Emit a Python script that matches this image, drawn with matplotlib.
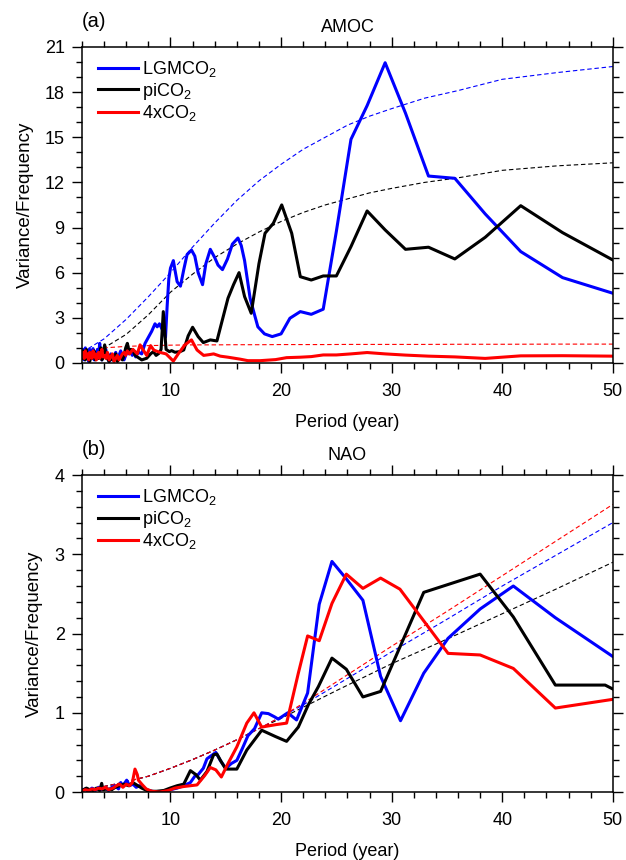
import matplotlib
matplotlib.use("Agg")
import matplotlib.pyplot as plt
from matplotlib.ticker import MultipleLocator

plt.rcParams['font.family'] = ['Liberation Sans', 'DejaVu Sans']
plt.rcParams['mathtext.fontset'] = 'custom'
plt.rcParams['mathtext.rm'] = 'Liberation Sans'
plt.rcParams['mathtext.it'] = 'Liberation Sans'

# ---------------- data: panel (a) AMOC ----------------
a_lgm_x = [2.0, 2.1, 2.2, 2.3, 2.4, 2.5, 2.6, 2.7, 2.8, 2.9, 3.0, 3.1, 3.2, 3.3, 3.4, 3.5, 3.6, 3.7,
           3.8, 3.9, 4.0, 4.15, 4.3, 4.45, 4.6, 4.75, 4.9, 5.05, 5.2, 5.35, 5.5, 5.65, 5.8, 5.95,
           6.1, 6.25, 6.4, 6.55, 6.7, 6.85, 7.0, 7.15, 7.4, 7.7, 8.0, 8.3, 8.6, 8.8, 9.0, 9.2, 9.4,
           9.55, 9.7, 9.85, 10.0, 10.26, 10.4, 10.6, 10.9, 11.2, 11.5, 11.9, 12.2, 12.5, 12.9, 13.2,
           13.6, 14.0, 14.3, 14.7, 15.15, 15.6, 16.1, 16.4, 16.7, 17.2, 17.6, 17.9, 18.5, 19.2, 20.0,
           20.8, 21.74, 22.73, 23.81, 25.0, 26.32, 27.78, 29.41, 31.25, 33.33, 35.71, 38.46, 41.67,
           45.45, 50.0]
a_lgm_y = [0.6, 0.9, 0.2, 1.0, 0.4, 0.8, 0.1, 0.9, 0.3, 0.7, 0.95, 0.2, 0.6, 0.3, 0.9, 0.5, 1.3, 0.4,
           0.2, 0.8, 0.5, 0.9, 0.3, 0.1, 0.6, 0.2, 0.4, 0.7, 0.3, 0.5, 0.8, 0.4, 0.2, 0.5,
           0.9, 0.6, 0.7, 0.5, 0.8, 0.4, 0.6, 0.7, 0.6, 1.3, 1.7, 2.1, 2.6, 2.4, 2.6, 2.3, 2.0,
           1.7, 3.8, 5.6, 6.3, 6.8, 6.2, 5.4, 5.1, 6.2, 7.2, 7.5, 7.1, 6.0, 5.2, 6.6,
           7.55, 7.0, 6.5, 6.2, 6.9, 7.9, 8.3, 7.8, 6.8, 4.3, 3.2, 2.4, 1.93, 1.75, 1.93,
           2.97, 3.41, 3.23, 3.57, 8.75, 14.86, 17.1, 19.95, 16.6, 12.42, 12.27, 9.9, 7.4,
           5.67, 4.63]

a_pi_x = [2.0, 2.1, 2.2, 2.3, 2.4, 2.5, 2.6, 2.7, 2.8, 2.9, 3.0, 3.1, 3.2, 3.3, 3.4, 3.5, 3.6, 3.7,
          3.8, 3.9, 4.05, 4.15, 4.3, 4.45, 4.6, 4.75, 4.9, 5.05, 5.2, 5.35, 5.5, 5.65, 5.8, 5.95,
          6.1, 6.25, 6.4, 6.6, 6.8, 7.0, 7.4, 7.85, 8.2, 8.45, 8.7, 8.96, 9.15, 9.35, 9.6, 9.9,
          10.1, 10.4, 10.86, 11.2, 11.6, 12.0, 12.5, 12.97, 13.6, 14.2, 14.6, 15.2, 15.7, 16.2,
          16.7, 17.3, 18.0, 18.55, 19.3, 20.06, 20.96, 21.74, 22.73, 23.81, 25.0, 26.32, 27.78,
          29.41, 31.25, 33.33, 35.71, 38.46, 41.67, 45.45, 50.0]
a_pi_y = [0.3, 0.8, 0.5, 0.2, 0.9, 0.4, 0.6, 0.1, 0.7, 0.3, 0.5, 0.8, 0.2, 0.4, 0.6, 0.3, 0.5, 1.0,
          0.2, 0.6, 1.2, 0.4, 0.3, 0.1, 0.5, 0.2, 0.3, 0.6, 0.1, 0.3, 0.4, 0.2, 0.5, 1.0,
          1.3, 0.8, 0.9, 0.86, 0.5, 0.4, 0.2, 0.31, 0.6, 0.75, 0.5, 0.64, 0.9, 3.41, 0.9, 0.75,
          0.82, 0.71, 0.75, 0.86, 1.8, 2.37, 1.75, 1.35, 1.53, 1.46, 2.6, 4.3, 5.2, 6.0,
          4.41, 3.3, 6.6, 8.62, 9.28, 10.5, 8.62, 5.73, 5.51, 5.78, 5.78, 7.73, 10.1,
          8.84, 7.55, 7.69, 6.91, 8.35, 10.45, 8.66, 6.84]

a_4x_x = [2.0, 2.1, 2.2, 2.3, 2.4, 2.5, 2.6, 2.7, 2.8, 2.9, 3.0, 3.1, 3.2, 3.3, 3.4, 3.5, 3.6, 3.7,
          3.8, 3.9, 4.0, 4.15, 4.3, 4.45, 4.6, 4.75, 4.9, 5.05, 5.2, 5.35, 5.5, 5.65, 5.8, 5.95,
          6.1, 6.3, 6.6, 7.0, 7.25, 7.5, 7.85, 8.2, 8.5, 9.05, 9.6, 10.26, 10.7, 11.3, 11.9, 12.4,
          13.0, 13.5, 13.9, 14.5, 15.2, 16.3, 17.0, 18.1, 19.5, 20.5, 21.74, 22.73, 23.81, 25.0,
          26.32, 27.78, 29.41, 31.25, 33.33, 35.71, 38.46, 41.67, 45.45, 50.0]
a_4x_y = [0.5, 0.7, 0.3, 0.8, 0.4, 0.6, 0.2, 0.7, 0.5, 0.3, 0.8, 0.4, 0.6, 0.2, 0.5, 0.7, 0.3, 0.6,
          0.9, 0.4, 0.5, 0.3, 0.7, 0.2, 0.4, 0.6, 0.1, 0.3, 0.5, 0.2, 0.4, 0.6, 0.7, 0.5,
          0.8, 0.6, 0.9, 0.6, 1.2, 0.9, 0.5, 1.15, 0.85, 0.7, 0.6, 0.12, 0.6, 1.2, 1.53, 0.86,
          0.5, 0.55, 0.6, 0.45, 0.38, 0.25, 0.15, 0.15, 0.22, 0.35, 0.38, 0.42, 0.53, 0.53,
          0.6, 0.69, 0.6, 0.52, 0.45, 0.4, 0.3, 0.47, 0.48, 0.45]

# significance (red-noise) curves, panel (a)
a_sig_x = [2, 4, 6, 8, 10, 12, 14, 16, 18, 20, 22, 24, 26, 28, 30, 33, 36, 40, 45, 50]
a_lgm_sig = [0.7, 1.6, 2.9, 4.4, 6.0, 7.7, 9.3, 10.8, 12.1, 13.2, 14.2, 15.0, 15.8, 16.4, 16.9,
             17.6, 18.1, 18.85, 19.3, 19.7]
a_pi_sig = [0.5, 1.0, 1.9, 3.2, 4.7, 5.9, 7.0, 7.9, 8.7, 9.4, 10.0, 10.5, 10.9, 11.3, 11.6,
            12.0, 12.3, 12.8, 13.1, 13.3]
a_4x_sig = [0.75, 1.0, 1.1, 1.15, 1.18, 1.2, 1.2, 1.21, 1.21, 1.22, 1.22, 1.22, 1.23, 1.23, 1.23,
            1.23, 1.24, 1.24, 1.25, 1.25]

# ---------------- data: panel (b) NAO ----------------
b_lgm_x = [2.0, 2.3, 2.6, 2.9, 3.2, 3.5, 3.8, 4.1, 4.4, 4.7, 5.0, 5.3, 5.5, 5.7, 6.04, 6.3, 6.6,
           6.9, 7.2, 7.4, 7.85, 8.3, 8.75, 9.4, 10.0, 10.6, 11.2, 11.8, 12.2, 12.5, 12.97, 13.3,
           13.6, 14.1, 14.5, 15.0, 15.5, 16.0, 16.5, 17.0, 17.6, 18.25, 18.85, 19.4, 19.75, 20.6,
           21.4, 22.4, 23.45, 24.6, 25.9, 27.4, 29.0, 30.8, 32.9, 35.1, 38.0, 41.0, 44.8, 50.0]
b_lgm_y = [0.02, 0.04, 0.0, 0.05, 0.02, 0.06, 0.03, 0.05, 0.02, 0.06, 0.08, 0.04, 0.12, 0.08,
           0.15, 0.08, 0.1, 0.06, 0.08, 0.07, 0.03, 0.01, 0.0, 0.0, 0.03, 0.05, 0.08, 0.12, 0.2,
           0.22, 0.3, 0.42, 0.45, 0.5, 0.4, 0.3, 0.36, 0.4, 0.55, 0.71, 0.8, 1.0, 0.99, 0.95,
           0.92, 1.0, 0.91, 1.25, 2.37, 2.91, 2.69, 2.42, 1.46, 0.9, 1.5, 1.94, 2.31, 2.6, 2.2,
           1.71]

b_pi_x = [2.0, 2.4, 2.7, 3.0, 3.3, 3.6, 3.78, 3.9, 4.3, 4.7, 5.0, 5.4, 5.8, 6.2, 6.6, 6.94, 7.4,
          7.85, 8.3, 8.75, 9.4, 9.96, 10.6, 11.2, 11.8, 12.3, 12.7, 13.3, 13.9, 14.2, 14.6, 15.0,
          16.0, 16.9, 18.25, 19.5, 20.5, 21.56, 22.46, 23.37, 24.6, 25.9, 27.4, 29.0, 32.9, 38.0,
          41.0, 44.8, 49.3, 50.0]
b_pi_y = [0.02, 0.05, 0.03, 0.02, 0.05, 0.02, 0.11, 0.03, 0.04, 0.03, 0.06, 0.08, 0.1, 0.08,
          0.12, 0.09, 0.05, 0.02, 0.01, 0.01, 0.02, 0.05, 0.08, 0.1, 0.27, 0.22, 0.15, 0.26, 0.47,
          0.48, 0.38, 0.29, 0.29, 0.53, 0.78, 0.7, 0.64, 0.82, 1.1, 1.33, 1.69, 1.55, 1.2, 1.27,
          2.52, 2.75, 2.21, 1.35, 1.35, 1.3]

b_4x_x = [2.0, 2.3, 2.6, 2.9, 3.2, 3.5, 3.8, 4.1, 4.4, 4.8, 5.1, 5.4, 5.7, 6.0, 6.3, 6.55, 6.79,
          7.0, 7.1, 7.4, 7.8, 8.3, 9.0, 9.8, 10.4, 11.2, 11.8, 12.4, 13.1, 13.6, 14.1, 14.6, 15.2,
          16.0, 16.9, 17.55, 18.25, 19.5, 20.5, 21.56, 22.4, 23.45, 24.6, 25.9, 27.4, 29.0, 30.75,
          32.9, 35.1, 38.0, 41.0, 44.8, 50.0]
b_4x_y = [0.01, 0.03, 0.02, 0.04, 0.03, 0.05, 0.04, 0.06, 0.03, 0.05, 0.08, 0.1, 0.06, 0.1, 0.08,
          0.12, 0.29, 0.22, 0.15, 0.1, 0.04, 0.01, 0.0, 0.02, 0.05, 0.07, 0.08, 0.09, 0.21, 0.31,
          0.28, 0.19, 0.36, 0.57, 0.87, 1.0, 0.82, 0.85, 0.87, 1.5, 1.97, 1.91, 2.38, 2.75, 2.57,
          2.7, 2.56, 2.16, 1.75, 1.73, 1.56, 1.06, 1.17]

b_sig_x = [2, 4, 6, 8, 10, 12, 14, 16, 18, 20, 22, 25, 30, 35, 40, 45, 50]
b_lgm_sig = [0.03, 0.07, 0.13, 0.2, 0.3, 0.41, 0.53, 0.66, 0.8, 0.95, 1.1, 1.35, 1.77, 2.18, 2.6,
             3.0, 3.4]
b_pi_sig = [0.03, 0.07, 0.13, 0.2, 0.3, 0.41, 0.53, 0.66, 0.8, 0.93, 1.07, 1.28, 1.62, 1.93, 2.25,
            2.57, 2.9]
b_4x_sig = [0.03, 0.07, 0.13, 0.2, 0.3, 0.41, 0.53, 0.66, 0.8, 0.95, 1.12, 1.39, 1.84, 2.28, 2.73,
            3.18, 3.63]

labels = ['LGMCO$_2$', 'piCO$_2$', '4xCO$_2$']
colors = ['#0000ff', '#000000', '#ff0000']

FS = 13

fig = plt.figure(figsize=(6.26, 8.6), dpi=100)
ax_a = fig.add_axes([0.131, 0.578, 0.848, 0.3674])
ax_b = fig.add_axes([0.131, 0.079, 0.848, 0.3686])


def style(ax, ymax, ymaj, ymin, tag, title):
    ax.set_xlim(2, 50)
    ax.set_ylim(0, ymax)
    ax.xaxis.set_major_locator(MultipleLocator(10))
    ax.xaxis.set_minor_locator(MultipleLocator(2))
    ax.yaxis.set_major_locator(MultipleLocator(ymaj))
    ax.yaxis.set_minor_locator(MultipleLocator(ymin))
    ax.tick_params(which='both', direction='out', top=True, right=True,
                   labeltop=False, labelright=False, width=1.0, labelsize=FS)
    ax.tick_params(which='major', length=7.5, pad=5)
    ax.tick_params(axis='x', which='major', pad=7)
    ax.tick_params(which='minor', length=4)
    for s in ax.spines.values():
        s.set_linewidth(1.1)
    ax.set_xlabel('Period (year)', fontsize=FS, labelpad=10)
    ax.set_ylabel('Variance/Frequency', fontsize=13.5, labelpad=8)
    ax.set_title(title, fontsize=FS, pad=11)
    ax.text(0.0, 1.05, tag, transform=ax.transAxes, fontsize=14.5, ha='left', va='bottom')


series_a = [(a_lgm_x, a_lgm_y, a_lgm_sig), (a_pi_x, a_pi_y, a_pi_sig), (a_4x_x, a_4x_y, a_4x_sig)]
for (xs, ys, sig), c, lab in zip(series_a, colors, labels):
    ax_a.plot(a_sig_x, sig, color=c, lw=0.8, dashes=(4, 2.5))
for (xs, ys, sig), c, lab in zip(series_a, colors, labels):
    ax_a.plot(xs, ys, color=c, lw=2.2, label=lab)

series_b = [(b_lgm_x, b_lgm_y, b_lgm_sig), (b_pi_x, b_pi_y, b_pi_sig), (b_4x_x, b_4x_y, b_4x_sig)]
for (xs, ys, sig), c, lab in zip(series_b, colors, labels):
    ax_b.plot(b_sig_x, sig, color=c, lw=0.8, dashes=(4, 2.5))
for (xs, ys, sig), c, lab in zip(series_b, colors, labels):
    ax_b.plot(xs, ys, color=c, lw=2.2, label=lab)

style(ax_a, 21, 3, 1, '(a)', 'AMOC')
style(ax_b, 4, 1, 0.2, '(b)', 'NAO')

for ax in (ax_a, ax_b):
    ax.legend(loc='upper left', bbox_to_anchor=(0.01, 0.995), frameon=False, fontsize=FS,
              handlelength=2.2, handletextpad=0.25, labelspacing=0.08, borderaxespad=0.2)

fig.savefig('out.png', dpi=100)
